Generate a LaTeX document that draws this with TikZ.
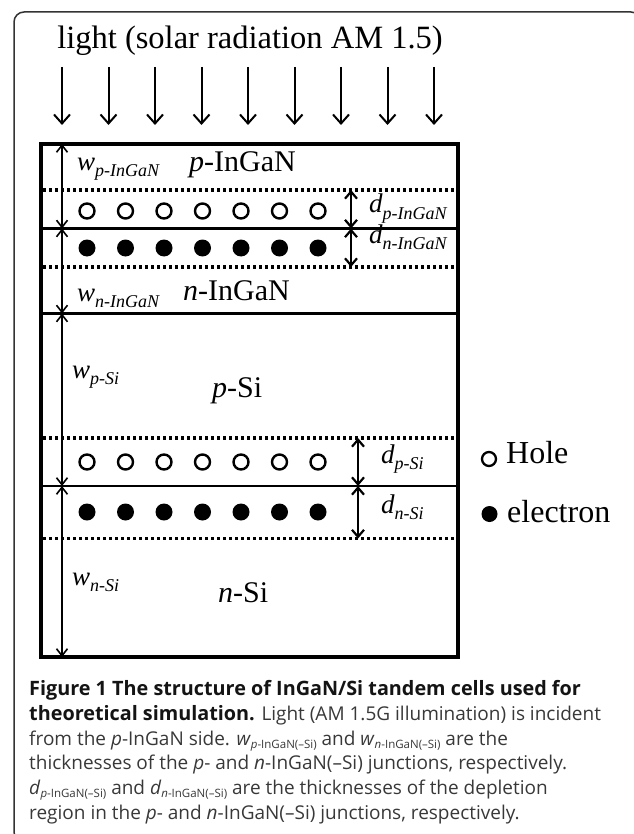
\documentclass[tikz,border=0pt]{standalone}
\usepackage{fontspec}
\setmainfont{Liberation Serif}
\newfontfamily\capfont{Open Sans}
\usetikzlibrary{arrows.meta}
\newcommand{\lbw}[2]{{\fontsize{27}{27}\selectfont\itshape #1}\raisebox{-6pt}{\fontsize{18}{18}\selectfont\itshape #2}}
\newcommand{\csub}[1]{\raisebox{-3.5pt}{\fontsize{11.5}{11.5}\selectfont #1}}
\begin{document}
\begin{tikzpicture}[x=1pt,y=-1pt,
  lab/.style={anchor=base west,inner sep=0pt},
  big/.style={lab,font=\fontsize{30}{30}\selectfont},
  captext/.style={anchor=base west,inner sep=0pt,text=black!78,font=\capfont\fontsize{19}{19}\selectfont},
  capbold/.style={font=\capfont\bfseries\fontsize{19.8}{19.8}\selectfont},
  ray/.style={line width=2pt,-{Straight Barb[length=9pt,width=16pt,line width=2pt]}},
  wdim/.style={line width=1.6pt,{Straight Barb[length=7pt,width=11pt,line width=1.6pt]}-{Straight Barb[length=7pt,width=11pt,line width=1.6pt]}},
  ddim/.style={line width=2.4pt,{Straight Barb[length=7pt,width=12pt,line width=2.2pt]}-{Straight Barb[length=7pt,width=12pt,line width=2.2pt]}},
  junction/.style={line width=2.7pt},
  deplete/.style={line width=3.2pt,dash pattern=on 3.2pt off 2.8pt},
  hole/.style={draw,line width=2.4pt,circle,minimum size=15pt,inner sep=0pt},
  elec/.style={fill,circle,minimum size=17pt,inner sep=0pt}]
\useasboundingbox (0,0) rectangle (633,834);
% outer frame
\draw[line width=1.5pt,black!80,rounded corners=10pt] (14,12) rectangle (641,842);
% title and light rays
\node[anchor=base,inner sep=0pt,font=\fontsize{32.5}{32.5}\selectfont] (title) at (250,49) {light (solar radiation AM 1.5)};
\foreach \i in {0,...,8}{
  \coordinate (rs\i) at (62+46.5*\i,67);
  \coordinate (re\i) at (62+46.5*\i,125);
  \draw[ray] (rs\i) -- (re\i);
}
% layer boundaries
\coordinate (bl) at (41,144); \coordinate (tr) at (458,657);
\draw[line width=4.5pt] (bl) rectangle (tr);
\foreach \n/\y in {j1/228.5,j2/313.5,j3/486}{
  \coordinate (\n l) at (41,\y); \coordinate (\n r) at (458,\y);
  \draw[junction] (\n l) -- (\n r);
}
\foreach \n/\y in {d1/190,d2/267,d3/438,d4/538.5}{
  \coordinate (\n l) at (43,\y); \coordinate (\n r) at (456,\y);
  \draw[deplete] (\n l) -- (\n r);
}
% carriers
\foreach \k in {0,...,6}{
  \node[hole] (ha\k) at (87+38.5*\k,211) {};
  \node[elec] (ea\k) at (87+38.5*\k,248) {};
  \node[hole] (hb\k) at (87+38.5*\k,462) {};
  \node[elec] (eb\k) at (87+38.5*\k,512) {};
}
% width arrows
\coordinate (w0) at (62,144); \coordinate (w1) at (62,228.5);
\coordinate (w2) at (62,313.5); \coordinate (w3) at (62,486); \coordinate (w4) at (62,657);
\draw[wdim] (w0) -- (w1);
\draw[wdim] (w1) -- (w2);
\draw[wdim] (w2) -- (w3);
\draw[wdim] (w3) -- (w4);
% depletion arrows
\coordinate (da0) at (351,190); \coordinate (da1) at (351,228.5); \coordinate (da2) at (351,267);
\coordinate (db0) at (358,438); \coordinate (db1) at (358,486); \coordinate (db2) at (358,538.5);
\draw[ddim] (da0) -- (da1);
\draw[ddim] (da1) -- (da2);
\draw[ddim] (db0) -- (db1);
\draw[ddim] (db1) -- (db2);
% labels
\node[lab] (lwpi) at (77,171) {\lbw{w}{p-InGaN}};
\node[big] (lpi) at (189,172) {\textit{p}-InGaN};
\node[lab] (ldpi) at (369,213) {\lbw{d}{p-InGaN}};
\node[lab] (ldni) at (369,243) {\lbw{d}{n-InGaN}};
\node[lab] (lwni) at (77,301) {\lbw{w}{n-InGaN}};
\node[big] (lni) at (183,300) {\textit{n}-InGaN};
\node[lab] (lwps) at (72,378) {\lbw{w}{p-Si}};
\node[big] (lps) at (212,397) {\textit{p}-Si};
\node[lab] (ldps) at (381,463) {\lbw{d}{p-Si}};
\node[lab] (ldns) at (381,513) {\lbw{d}{n-Si}};
\node[lab] (lwns) at (72,585) {\lbw{w}{n-Si}};
\node[big] (lns) at (218,602) {\textit{n}-Si};
% legend
\node[hole,minimum size=14pt,line width=2.3pt] (lgh) at (489,459) {};
\node[lab,font=\fontsize{32}{32}\selectfont] (lght) at (506,463) {Hole};
\node[elec,minimum size=16pt] (lge) at (489.5,514) {};
\node[lab,font=\fontsize{32}{32}\selectfont] (lget) at (507,522) {electron};
% caption
\node[captext,capbold,text=black!92] (c1) at (29,695.5) {Figure 1 The structure of InGaN/Si tandem cells used for};
\node[captext] (c2) at (29,720.2) {{\capfont\bfseries\fontsize{19.8}{19.8}\selectfont\color{black!92}theoretical simulation.} Light (AM 1.5G illumination) is incident};
\node[captext] (c3) at (29,745) {from the \textit{p}-InGaN side. \textit{w}\csub{\textit{p}-InGaN(–Si)} and \textit{w}\csub{\textit{n}-InGaN(–Si)} are the};
\node[captext] (c4) at (29,769.7) {thicknesses of the \textit{p}- and \textit{n}-InGaN(–Si) junctions, respectively.};
\node[captext] (c5) at (29,794.4) {\textit{d}\csub{\textit{p}-InGaN(–Si)} and \textit{d}\csub{\textit{n}-InGaN(–Si)} are the thicknesses of the depletion};
\node[captext] (c6) at (29,819) {region in the \textit{p}- and \textit{n}-InGaN(–Si) junctions, respectively.};
\end{tikzpicture}
\end{document}
